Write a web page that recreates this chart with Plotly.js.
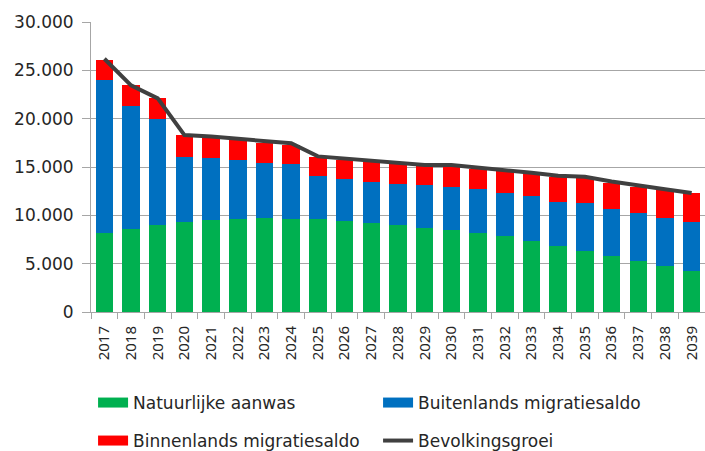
<!DOCTYPE html>
<html><head><meta charset="utf-8">
<script src="https://cdn.plot.ly/plotly-3.0.1.min.js"></script>
<style>html,body{margin:0;padding:0;background:#fff}#chart{width:705px;height:451px}</style>
</head><body><div id="chart"></div>
<script>
const years = ['2017','2018','2019','2020','2021','2022','2023','2024','2025','2026','2027','2028','2029','2030','2031','2032','2033','2034','2035','2036','2037','2038','2039'];
const natuurlijkeAanwas = [8130,8570,8990,9330,9500,9610,9740,9610,9610,9400,9190,8990,8710,8470,8130,7820,7370,6820,6300,5790,5230,4790,4270];
const buitenlandsMigratiesaldo = [15870,12740,10950,6720,6440,6120,5650,5710,4440,4410,4310,4300,4380,4480,4580,4510,4610,4610,4930,4890,5030,4950,5060];
const binnenlandsMigratiesaldo = [2100,2140,2240,2240,2170,2140,2140,2000,1990,1960,2030,2070,2030,2170,2130,2340,2280,2550,2650,2710,2690,2860,3000];
const bevolkingsgroei = [26200,23450,22100,18300,18150,17950,17650,17450,16100,15850,15650,15450,15200,15200,14950,14750,14400,14100,14000,13500,13050,12700,12300];
const yTicks = [0,5000,10000,15000,20000,25000,30000];
const yTickText = ['0','5.000','10.000','15.000','20.000','25.000','30.000'];

const names = ['Natuurlijke aanwas','Buitenlands migratiesaldo','Binnenlands migratiesaldo','Bevolkingsgroei'];
const colors = ['#00b050','#0070c0','#ff0000','#404040'];
const wideFont = '"DejaVu Sans", sans-serif';
const textColor = '#262626';

const traces = [
  {type:'bar', name:names[0], x:years, y:natuurlijkeAanwas, marker:{color:colors[0]}, showlegend:false},
  {type:'bar', name:names[1], x:years, y:buitenlandsMigratiesaldo, marker:{color:colors[1]}, showlegend:false},
  {type:'bar', name:names[2], x:years, y:binnenlandsMigratiesaldo, marker:{color:colors[2]}, showlegend:false},
  // legend-only entries (no data) to show wide colour swatches like the reference
  {type:'scatter', mode:'lines', name:names[0], x:[null], y:[null], line:{color:colors[0], width:10}, legend:'legend', hoverinfo:'skip'},
  {type:'scatter', mode:'lines', name:names[1], x:[null], y:[null], line:{color:colors[1], width:10}, legend:'legend', hoverinfo:'skip'},
  {type:'scatter', mode:'lines', name:names[2], x:[null], y:[null], line:{color:colors[2], width:10}, legend:'legend2', hoverinfo:'skip'},
  {type:'scatter', mode:'lines', name:names[3], x:years, y:bevolkingsgroei, line:{color:colors[3], width:4}, legend:'legend2'}
];

const legendCommon = {orientation:'h', xref:'container', yref:'container', x:0.132, xanchor:'left', yanchor:'middle',
  traceorder:'normal', entrywidth:240, entrywidthmode:'pixels',
  font:{family:wideFont, size:17, color:textColor}, bgcolor:'rgba(0,0,0,0)', borderwidth:0};

const layout = {
  width:705, height:451,
  margin:{l:91, r:0, t:22, b:139},
  barmode:'stack', bargap:0.345,
  paper_bgcolor:'#fff', plot_bgcolor:'#fff',
  font:{family:wideFont, size:16, color:textColor},
  showlegend:true,
  legend:Object.assign({}, legendCommon, {y:(451-403)/451}),
  legend2:Object.assign({}, legendCommon, {y:(451-441)/451}),
  xaxis:{type:'category', tickangle:-90, ticks:'outside', tickson:'boundaries', ticklen:6, tickcolor:'#a6a6a6',
         showline:true, linecolor:'#a6a6a6', showgrid:false, automargin:false, ticklabelstandoff:7,
         tickfont:{family:'"Noto Sans", sans-serif', size:15, color:textColor}},
  yaxis:{range:[0,30000], tickvals:yTicks, ticktext:yTickText, ticks:'outside', ticklen:8, tickcolor:'#a6a6a6',
         showline:true, linecolor:'#a6a6a6', showgrid:true, gridcolor:'#a6a6a6', gridwidth:1, zeroline:false,
         automargin:false, ticklabelstandoff:5, tickfont:{family:wideFont, size:17, color:textColor}}
};
Plotly.newPlot('chart', traces, layout, {displayModeBar:false, staticPlot:true});
</script></body></html>
